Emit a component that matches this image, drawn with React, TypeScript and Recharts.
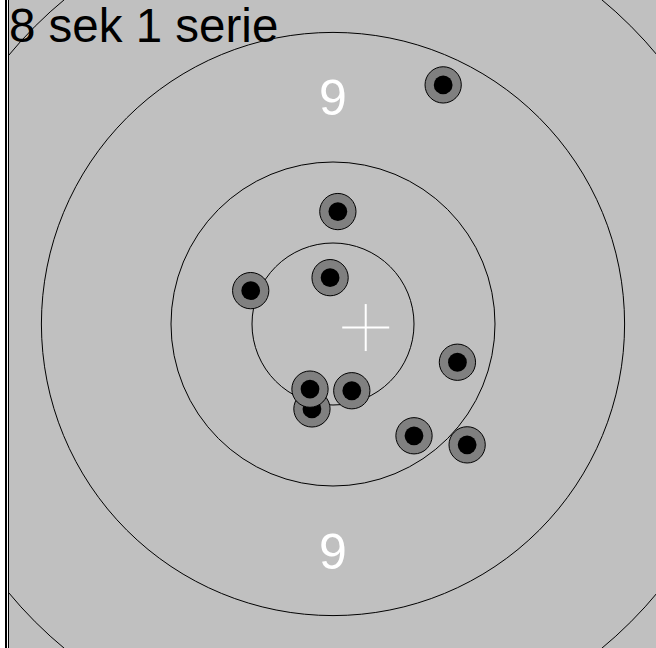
import React from 'react';
import { ScatterChart, Scatter, XAxis, YAxis, CartesianGrid } from 'recharts';

// target geometry in mm (25m rapid fire target): inner ten, 10, 9, 8
const ringRadii = [25, 50, 90, 130];
const ringLabels = ['9', '9'];
const ringLabelX = [0, 0];
const ringLabelY = [70, -70];

// shot positions in mm from target centre
const shotX = [34.0, 1.5, -0.9, -25.4, 38.4, -6.5, -7.1, 5.8, 25.0, 41.4];
const shotY = [73.8, 34.7, 14.3, 10.3, -11.8, -26.2, -20.1, -20.6, -34.5, -37.3];

// group centre (white cross)
const groupCenterX = [10.1];
const groupCenterY = [-1.1];

const title = '8 sek 1 serie';

const holeRadius = 2.9; // mm
const gaugeRadius = 5.6; // mm
const crossHalf = 7.25; // mm
const domain: [number, number] = [-100, 100];

const CHART_W = 657;
const CHART_H = 648;
const LEFT = 9;
const pxPerMm = CHART_H / (domain[1] - domain[0]);

const rings = ringRadii.map((r) => ({ x: 0, y: 0, r }));
const labels = ringLabels.map((t, i) => ({ x: ringLabelX[i], y: ringLabelY[i], t }));
const shots = shotX.map((x, i) => ({ x, y: shotY[i] }));
const center = groupCenterX.map((x, i) => ({ x, y: groupCenterY[i] }));

const FONT = '"Liberation Sans", Arial, sans-serif';

const RingShape = (props: any) => (
  <circle cx={props.cx} cy={props.cy} r={props.payload.r * pxPerMm} fill="none" stroke="#000" strokeWidth={1} />
);

const LabelShape = (props: any) => {
  const size = 50;
  return (
    <text
      x={props.cx}
      y={props.cy + size * 0.358}
      textAnchor="middle"
      fill="#fff"
      fontSize={size}
      fontFamily={FONT}
    >
      {props.payload.t}
    </text>
  );
};

const ShotShape = (props: any) => (
  <g>
    <circle cx={props.cx} cy={props.cy} r={gaugeRadius * pxPerMm} fill="#808080" stroke="#000" strokeWidth={1} />
    <circle cx={props.cx} cy={props.cy} r={holeRadius * pxPerMm} fill="#000" />
  </g>
);

const CrossShape = (props: any) => {
  const h = crossHalf * pxPerMm;
  return (
    <g stroke="#fff" strokeWidth={2}>
      <line x1={props.cx - h} y1={props.cy} x2={props.cx + h} y2={props.cy} />
      <line x1={props.cx} y1={props.cy - h} x2={props.cx} y2={props.cy + h} />
    </g>
  );
};

export default function App() {
  return (
    <div
      style={{
        position: 'absolute',
        left: 0,
        top: 0,
        width: 656,
        height: 648,
        overflow: 'hidden',
        background: '#fff',
      }}
    >
      <div style={{ position: 'absolute', left: 5, top: 0, width: 2, height: CHART_H, background: '#000' }} />
      <div style={{ position: 'absolute', left: 8, top: 0, width: 1, height: CHART_H, background: '#000' }} />
      <div style={{ position: 'absolute', left: 0, top: 0 }}>
        <ScatterChart width={CHART_W} height={CHART_H} margin={{ top: 0, right: 0, bottom: 0, left: LEFT }}>
          <CartesianGrid fill="#c0c0c0" horizontal={false} vertical={false} stroke="none" />
          <XAxis type="number" dataKey="x" domain={domain} allowDataOverflow hide />
          <YAxis type="number" dataKey="y" domain={domain} allowDataOverflow hide />
          <Scatter data={rings} shape={RingShape} isAnimationActive={false} />
          <Scatter data={labels} shape={LabelShape} isAnimationActive={false} />
          <Scatter data={center} shape={CrossShape} isAnimationActive={false} />
          <Scatter data={shots} shape={ShotShape} isAnimationActive={false} />
        </ScatterChart>
      </div>
      <svg
        width={656}
        height={CHART_H}
        style={{ position: 'absolute', left: 0, top: 0, pointerEvents: 'none' }}
      >
        <text x={9} y={41.5} fontSize={47.5} fontFamily={FONT} fill="#000">
          {title}
        </text>
      </svg>
    </div>
  );
}
